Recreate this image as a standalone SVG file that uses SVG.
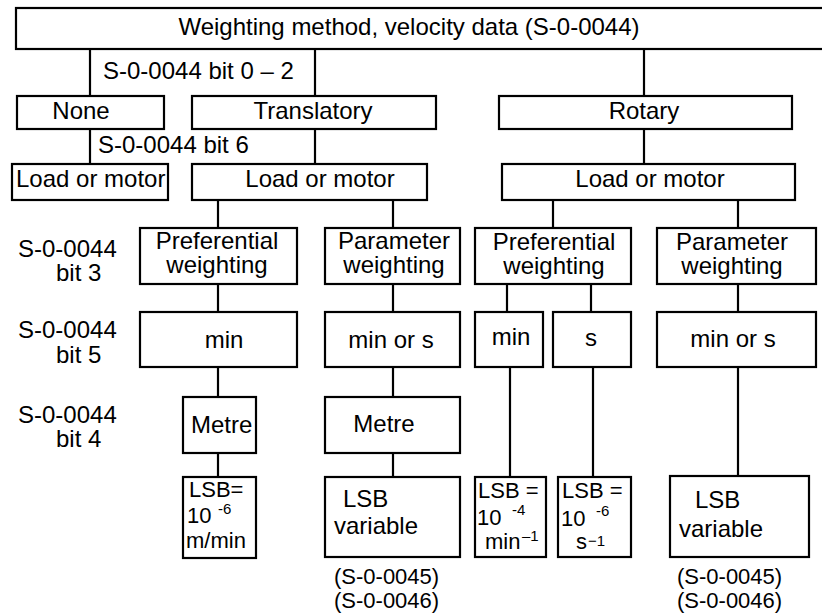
<svg xmlns="http://www.w3.org/2000/svg" width="822" height="615" viewBox="0 0 822 615">
<style>
.b{fill:#fff;stroke:#000;stroke-width:2.2}
.c line{stroke:#000;stroke-width:2.2}
text{font-family:"Liberation Sans",Arial,sans-serif;font-size:24px;fill:#000}
.m{text-anchor:middle}
.sup{font-size:15px}
.s{font-size:22px}
</style>
<rect width="822" height="615" fill="#fff"/>
<g class="c" id="connectors">
<line x1="90" y1="49" x2="90" y2="96"/>
<line x1="315" y1="49" x2="315" y2="96"/>
<line x1="644" y1="49" x2="644" y2="96"/>
<line x1="90" y1="129" x2="90" y2="164"/>
<line x1="315" y1="129" x2="315" y2="164"/>
<line x1="644" y1="129" x2="644" y2="164"/>
<line x1="218" y1="200" x2="218" y2="228"/>
<line x1="393" y1="200" x2="393" y2="228"/>
<line x1="553" y1="200" x2="553" y2="228"/>
<line x1="738" y1="200" x2="738" y2="228"/>
<line x1="218" y1="284" x2="218" y2="312"/>
<line x1="393" y1="284" x2="393" y2="312"/>
<line x1="507" y1="284" x2="507" y2="312"/>
<line x1="591" y1="284" x2="591" y2="312"/>
<line x1="738" y1="284" x2="738" y2="312"/>
<line x1="218" y1="367" x2="218" y2="397"/>
<line x1="393" y1="367" x2="393" y2="397"/>
<line x1="510" y1="367" x2="510" y2="477"/>
<line x1="593" y1="367" x2="593" y2="477"/>
<line x1="738" y1="367" x2="738" y2="476"/>
<line x1="218" y1="453" x2="218" y2="477"/>
<line x1="393" y1="453" x2="393" y2="477"/>
</g>
<g id="title"><rect class="b" x="16" y="8" width="810" height="41"/><text class="m" x="409" y="35">Weighting method, velocity data (S-0-0044)</text></g>
<g id="lbl-bit02"><text x="103" y="79">S-0-0044 bit 0 – 2</text></g>
<g id="none"><rect class="b" x="17" y="96" width="147" height="33"/><text class="m" x="81" y="119">None</text></g>
<g id="translatory"><rect class="b" x="192" y="96" width="244" height="33"/><text class="m" x="313" y="119">Translatory</text></g>
<g id="rotary"><rect class="b" x="499" y="96" width="293" height="33"/><text class="m" x="644" y="119">Rotary</text></g>
<g id="lbl-bit6"><text x="98" y="153">S-0-0044 bit 6</text></g>
<g id="load1"><rect class="b" x="12" y="164" width="156" height="36"/><text x="16" y="187">Load or motor</text></g>
<g id="load2"><rect class="b" x="192" y="164" width="235" height="36"/><text class="m" x="320" y="187">Load or motor</text></g>
<g id="load3"><rect class="b" x="502" y="164" width="293" height="36"/><text class="m" x="650" y="187">Load or motor</text></g>
<g id="lbl-bit3"><text x="18" y="257">S-0-0044</text><text x="56" y="281">bit 3</text></g>
<g id="lbl-bit5"><text x="18" y="338">S-0-0044</text><text x="56" y="363">bit 5</text></g>
<g id="lbl-bit4"><text x="18" y="423">S-0-0044</text><text x="56" y="447">bit 4</text></g>
<g id="pref1"><rect class="b" x="140" y="228" width="157" height="56"/><text class="m" x="217" y="249">Preferential</text><text class="m" x="217" y="273">weighting</text></g>
<g id="param1"><rect class="b" x="325" y="228" width="135" height="56"/><text class="m" x="394" y="249">Parameter</text><text class="m" x="394" y="273">weighting</text></g>
<g id="pref2"><rect class="b" x="475" y="228" width="156" height="56"/><text class="m" x="554" y="250">Preferential</text><text class="m" x="554" y="274">weighting</text></g>
<g id="param2"><rect class="b" x="657" y="228" width="159" height="56"/><text class="m" x="732" y="250">Parameter</text><text class="m" x="732" y="274">weighting</text></g>
<g id="min1"><rect class="b" x="140" y="312" width="157" height="55"/><text class="m" x="224" y="348">min</text></g>
<g id="minors1"><rect class="b" x="325" y="312" width="135" height="55"/><text class="m" x="391" y="348">min or s</text></g>
<g id="min2"><rect class="b" x="475" y="312" width="68" height="55"/><text class="m" x="511" y="345">min</text></g>
<g id="s2"><rect class="b" x="553" y="312" width="78" height="55"/><text class="m" x="591" y="346">s</text></g>
<g id="minors2"><rect class="b" x="657" y="312" width="159" height="55"/><text class="m" x="733" y="347">min or s</text></g>
<g id="metre1"><rect class="b" x="183" y="397" width="73" height="56"/><text x="191" y="433">Metre</text></g>
<g id="metre2"><rect class="b" x="325" y="397" width="135" height="56"/><text class="m" x="384" y="432">Metre</text></g>
<g id="lsb1"><rect class="b" x="183" y="477" width="73" height="81"/><text class="s" x="189" y="497">LSB=</text><text class="s" x="187" y="523">10</text><text class="sup" x="218" y="514">-6</text><text class="s" x="186" y="548">m/min</text></g>
<g id="lsb2"><rect class="b" x="325" y="477" width="135" height="80"/><text x="343" y="507">LSB</text><text x="334" y="534">variable</text></g>
<g id="lsb3"><rect class="b" x="475" y="477" width="71" height="80"/><text class="s" x="478" y="498">LSB =</text><text class="s" x="477" y="525">10</text><text class="sup" x="512" y="515">-4</text><text class="s" x="485" y="549">min</text><text class="sup" x="522" y="541">–1</text></g>
<g id="lsb4"><rect class="b" x="558" y="477" width="73" height="80"/><text class="s" x="562" y="498">LSB =</text><text class="s" x="561" y="526">10</text><text class="sup" x="596" y="516">-6</text><text class="s" x="576" y="549">s</text><text class="sup" x="588" y="546">−1</text></g>
<g id="lsb5"><rect class="b" x="670" y="476" width="139" height="81"/><text x="695" y="508">LSB</text><text x="679" y="537">variable</text></g>
<g id="ref1"><text class="s" x="334" y="584">(S-0-0045)</text><text class="s" x="334" y="608">(S-0-0046)</text></g>
<g id="ref2"><text class="s" x="677" y="584">(S-0-0045)</text><text class="s" x="677" y="608">(S-0-0046)</text></g>
</svg>
